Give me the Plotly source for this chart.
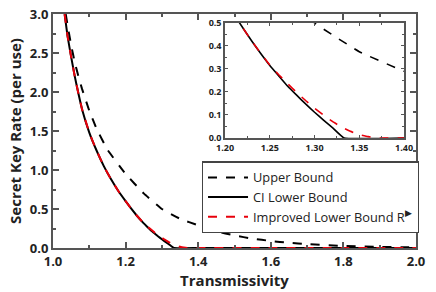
import plotly.graph_objects as go

# ---- data ----
upper_x = [1.035, 1.04, 1.05, 1.06, 1.07, 1.08, 1.10, 1.12, 1.15, 1.20, 1.25, 1.30, 1.35, 1.40,
           1.45, 1.50, 1.55, 1.60, 1.65, 1.70, 1.80, 1.90, 2.00]
upper_y = [3.0, 2.86, 2.6, 2.38, 2.2, 2.04, 1.76, 1.53, 1.26, 0.95, 0.70, 0.50, 0.375, 0.29,
           0.215, 0.16, 0.12, 0.09, 0.067, 0.05, 0.027, 0.014, 0.007]

ci_x = [1.032, 1.04, 1.05, 1.06, 1.07, 1.08, 1.10, 1.12, 1.14, 1.16, 1.18, 1.20, 1.2145, 1.23,
        1.25, 1.26, 1.27, 1.28, 1.29, 1.30, 1.31, 1.32, 1.333, 1.40, 1.60, 1.80, 2.00]
ci_y = [3.0, 2.72, 2.45, 2.2, 1.98, 1.78, 1.48, 1.25, 1.05, 0.88, 0.73, 0.60, 0.51, 0.42,
        0.315, 0.27, 0.225, 0.186, 0.148, 0.112, 0.078, 0.045, 0.0, 0.0, 0.0, 0.0, 0.0]

imp_x = [1.032, 1.04, 1.05, 1.06, 1.07, 1.08, 1.10, 1.12, 1.14, 1.16, 1.18, 1.20, 1.2145, 1.23,
         1.25, 1.26, 1.27, 1.28, 1.29, 1.30, 1.31, 1.32, 1.33, 1.34, 1.35, 1.36, 1.37, 1.375,
         1.40, 1.60, 1.80, 2.00]
imp_y = [3.0, 2.72, 2.45, 2.2, 1.98, 1.78, 1.48, 1.25, 1.05, 0.88, 0.73, 0.60, 0.51, 0.42,
         0.317, 0.275, 0.236, 0.198, 0.163, 0.13, 0.10, 0.072, 0.048, 0.029, 0.015, 0.006, 0.001, 0.0,
         0.0, 0.0, 0.0, 0.0]

names = ["Upper Bound", "CI Lower Bound", "Improved Lower Bound R<sup>▶</sup>"]
inset_grid_x = [1.25]
inset_grid_y = [0.3, 0.4]

FONT = "Open Sans"
AX = "#555555"

fig = go.Figure()
series = [
    (upper_x, upper_y, names[0], dict(color="black", width=2, dash="dash")),
    (ci_x, ci_y, names[1], dict(color="black", width=2)),
    (imp_x, imp_y, names[2], dict(color="#e8000b", width=2, dash="dash")),
]
for xs, ys, nm, ln in series:
    fig.add_trace(go.Scatter(x=xs, y=ys, mode="lines", name=nm, line=dict(shape="spline", smoothing=0.3, **ln),
                             xaxis="x", yaxis="y"))
for xs, ys, nm, ln in series:
    ln2 = dict(ln)
    ln2["width"] = 1.6
    fig.add_trace(go.Scatter(x=xs, y=ys, mode="lines", name=nm, showlegend=False,
                             line=dict(shape="spline", smoothing=0.3, **ln2), xaxis="x2", yaxis="y2"))

for gx in inset_grid_x:
    fig.add_shape(type="line", xref="x2", yref="y2 domain", x0=gx, x1=gx, y0=0, y1=1,
                  line=dict(color="#bdbdbd", width=1, dash="dot"), layer="below")
for gy in inset_grid_y:
    fig.add_shape(type="line", xref="x2 domain", yref="y2", x0=0, x1=1, y0=gy, y1=gy,
                  line=dict(color="#bdbdbd", width=1, dash="dot"), layer="below")

main_axis = dict(showline=True, linecolor=AX, linewidth=2, mirror="ticks", ticks="inside",
                 ticklen=6, tickwidth=1.5, tickcolor=AX, showgrid=False, zeroline=False,
                 automargin=False,
                 tickfont=dict(family=FONT, size=13, color="#222222", weight="bold"))

fig.update_layout(
    width=436, height=292,
    margin=dict(l=53, r=20, t=14, b=44),
    paper_bgcolor="white", plot_bgcolor="white",
    font=dict(family=FONT, color="#222222"),
    xaxis=dict(range=[1.0, 2.0], dtick=0.2, tickformat=".1f",
               minor=dict(ticks="inside", dtick=0.1, ticklen=3, tickcolor=AX),
               title=dict(text="<b>Transmissivity</b>", font=dict(family=FONT, size=15), standoff=4),
               **main_axis),
    yaxis=dict(range=[0, 3.0], dtick=0.5, tickformat=".1f",
               minor=dict(ticks="inside", dtick=0.25, ticklen=3, tickcolor=AX),
               title=dict(text="<b>Secret Key Rate (per use)</b>", font=dict(family=FONT, size=15), standoff=5),
               **main_axis),
    xaxis2=dict(domain=[0.474, 0.967], anchor="y2", range=[1.2, 1.4], dtick=0.05, tickformat=".2f",
                showline=True, linecolor=AX, linewidth=1.5, mirror="ticks", ticks="inside",
                ticklen=3, tickcolor=AX, showgrid=False, zeroline=False, automargin=False,
                minor=dict(ticks="inside", dtick=0.025, ticklen=2, tickcolor=AX),
                tickfont=dict(family=FONT, size=9, color="#222222", weight="bold")),
    yaxis2=dict(domain=[0.47, 0.962], anchor="x2", range=[0, 0.5], dtick=0.1, tickformat=".1f",
                showline=True, linecolor=AX, linewidth=1.5, mirror="ticks", ticks="inside",
                ticklen=3, tickcolor=AX, showgrid=False, zeroline=False, automargin=False,
                minor=dict(ticks="inside", dtick=0.05, ticklen=2, tickcolor=AX),
                tickfont=dict(family=FONT, size=9, color="#222222", weight="bold")),
    legend=dict(x=0.41, y=0.37, xanchor="left", yanchor="top",
                bgcolor="white", bordercolor="#444444", borderwidth=1.2,
                font=dict(family=FONT, size=12.8, color="#222222"),
                tracegroupgap=0, itemwidth=40),
    showlegend=True,
)

fig.write_html("out.html", config={"displayModeBar": False},
               post_script="document.body.style.margin='0';")
